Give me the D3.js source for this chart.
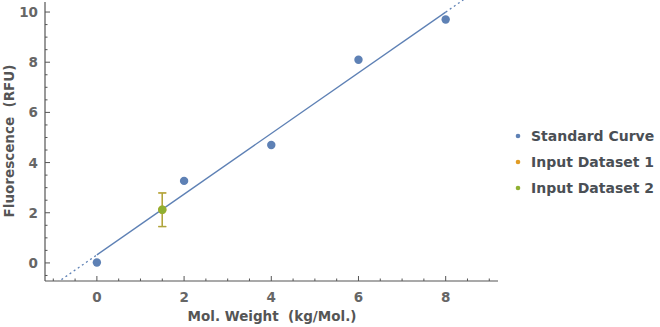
<!DOCTYPE html>
<html><head><meta charset="utf-8">
<script src="https://cdn.jsdelivr.net/npm/d3@7"></script>
<style>body{margin:0;background:#fff}svg{display:block}text{font-family:"DejaVu Sans",sans-serif;font-weight:bold;white-space:pre}</style>
</head><body><svg id="c" width="660" height="327"></svg>
<script>
const stdX = [0, 2, 4, 6, 8];
const stdY = [0.02, 3.27, 4.7, 8.1, 9.7];
const in1X = [1.5], in1Y = [2.12], in1Err = [0.67];
const in2X = [1.5], in2Y = [2.12], in2Err = [0.67];
const xTicks = [0, 2, 4, 6, 8];
const yTicks = [0, 2, 4, 6, 8, 10];
const legendLabels = ["Standard Curve", "Input Dataset 1", "Input Dataset 2"];
const colors = ["#5e81b5", "#e19c24", "#8fb032"];
const errColors = ["#e0a740", "#aaa63e"];

const svg = d3.select("#c");
const x = d3.scaleLinear().domain([-1.19, 9.2]).range([45, 498]);
const y = d3.scaleLinear().domain([-0.72, 10.4]).range([281, 2]);

// regression fit
const mx = d3.mean(stdX), my = d3.mean(stdY);
const slope = d3.sum(stdX.map((v,i)=>(v-mx)*(stdY[i]-my))) / d3.sum(stdX.map(v=>(v-mx)**2));
const icpt = my - slope*mx;

svg.append("clipPath").attr("id","cp").append("rect").attr("x",45).attr("y",0).attr("width",455).attr("height",281);
const g = svg.append("g").attr("clip-path","url(#cp)");
const xmin = x.domain()[0], xmax = x.domain()[1];
const line = d3.line().x(d=>x(d)).y(d=>y(slope*d+icpt));
g.append("path").attr("d", line([xmin, 0])).attr("stroke","#5e81b5").attr("stroke-width",1.3).attr("stroke-dasharray","2,3").attr("fill","none");
g.append("path").attr("d", line([8, xmax])).attr("stroke","#5e81b5").attr("stroke-width",1.3).attr("stroke-dasharray","2,3").attr("fill","none");
g.append("path").attr("d", line([0, 8])).attr("stroke","#5e81b5").attr("stroke-width",1.3).attr("fill","none");

// axes
const axisColor = "#555";
const xMinor = d3.range(-1, 9.01, 0.5).filter(v=>!xTicks.includes(v));
const yMinor = d3.range(-0.5, 10.01, 0.5).filter(v=>!yTicks.includes(v));
const ax = svg.append("g");
ax.append("line").attr("x1",45).attr("x2",498).attr("y1",281).attr("y2",281).attr("stroke",axisColor).attr("stroke-width",1.2);
ax.append("line").attr("x1",45).attr("x2",45).attr("y1",2).attr("y2",281).attr("stroke",axisColor).attr("stroke-width",1.2);
xTicks.forEach(v=>{
  ax.append("line").attr("x1",x(v)).attr("x2",x(v)).attr("y1",281).attr("y2",276).attr("stroke",axisColor);
  ax.append("text").attr("x",x(v)).attr("y",302).attr("text-anchor","middle").attr("font-size",13.5).attr("fill","#666").text(v);
});
xMinor.forEach(v=>{
  ax.append("line").attr("x1",x(v)).attr("x2",x(v)).attr("y1",281).attr("y2",278.5).attr("stroke",axisColor);
});
yTicks.forEach(v=>{
  ax.append("line").attr("x1",45).attr("x2",50).attr("y1",y(v)).attr("y2",y(v)).attr("stroke",axisColor);
  ax.append("text").attr("x",38).attr("y",y(v)+5).attr("text-anchor","end").attr("font-size",13.5).attr("fill","#666").text(v);
});
yMinor.forEach(v=>{
  ax.append("line").attr("x1",45).attr("x2",47.5).attr("y1",y(v)).attr("y2",y(v)).attr("stroke",axisColor);
});
svg.append("text").attr("x",272).attr("y",321).attr("text-anchor","middle").attr("font-size",13.5).attr("fill","#555").text("Mol. Weight  (kg/Mol.)");
svg.append("text").attr("transform","translate(14,141) rotate(-90)").attr("text-anchor","middle").attr("font-size",13.5).attr("fill","#555").text("Fluorescence  (RFU)");

// error bars and points
[[in1X,in1Y,in1Err,1],[in2X,in2Y,in2Err,2]].forEach(([xs,ys,es,k])=>{
  xs.forEach((xv,i)=>{
    const c = errColors[k-1];
    const px = x(xv);
    svg.append("line").attr("x1",px).attr("x2",px).attr("y1",y(ys[i]+es[i])).attr("y2",y(ys[i]-es[i])).attr("stroke",c).attr("stroke-width",1.3);
    [ys[i]+es[i], ys[i]-es[i]].forEach(e=>svg.append("line").attr("x1",px-4).attr("x2",px+4).attr("y1",y(e)).attr("y2",y(e)).attr("stroke",c).attr("stroke-width",1.3));
    svg.append("circle").attr("cx",px).attr("cy",y(ys[i])).attr("r",4.2).attr("fill",colors[k]);
  });
});
stdX.forEach((xv,i)=>svg.append("circle").attr("cx",x(xv)).attr("cy",y(stdY[i])).attr("r",4.2).attr("fill",colors[0]));

// legend
legendLabels.forEach((l,i)=>{
  const yy = 136 + i*26;
  svg.append("circle").attr("cx",518).attr("cy",yy).attr("r",2.3).attr("fill",colors[i]);
  svg.append("text").attr("x",531).attr("y",yy+5).attr("font-size",14).attr("fill","#4a4f55").text(l);
});
</script></body></html>
